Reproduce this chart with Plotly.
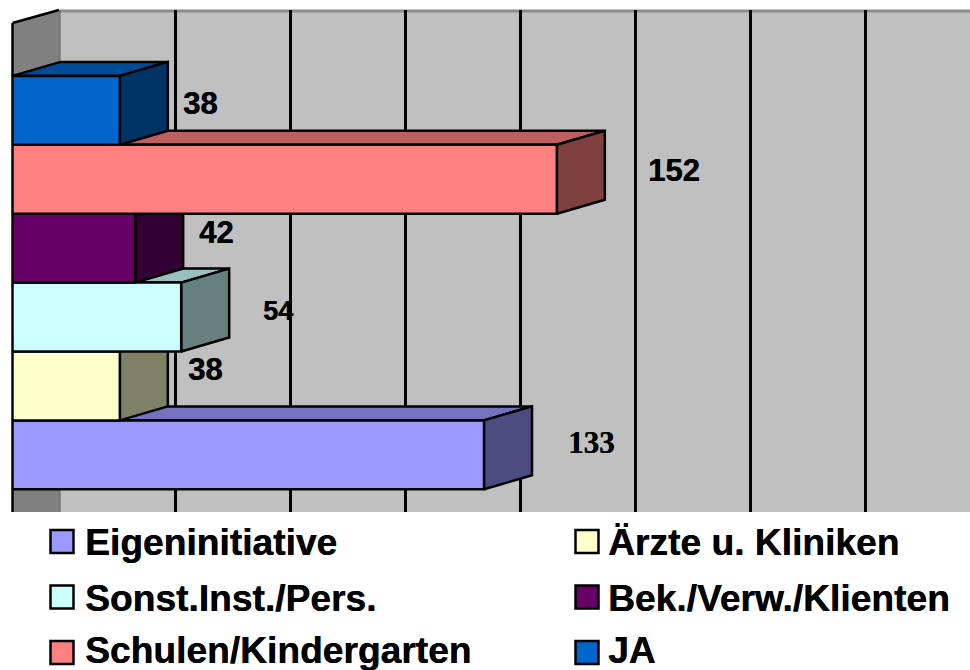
import plotly.graph_objects as go

categories = ["Eigeninitiative", "Ärzte u. Kliniken", "Sonst.Inst./Pers.",
              "Bek./Verw./Klienten", "Schulen/Kindergarten", "JA"]
values = [133, 38, 54, 42, 152, 38]
colors = ["#9999FF", "#FFFFCC", "#CCFFFF", "#660066", "#FF8080", "#0066CC"]
label_fonts = ["Liberation Serif", "Liberation Sans", "Liberation Sans",
               "Liberation Sans", "Liberation Sans", "Liberation Sans"]
label_sizes = [31, 31, 27, 31, 31, 31]
label_shift_x = [107.5, 85.5, 97, 81, 117.5, 80.5]
label_shift_y = [12, 16, 6, 16, 9, 7]
grid_values = [40, 70, 100, 130, 160, 190, 220, 250]

W, H = 970, 670
AXIS_MIN = 10
PX_PER_UNIT = 115 / 30
PX_LEFT, PX_TOP, PX_BOTTOM = 12.5, 10, 512
ROW_H = 68.9
ROW_BOTTOM = 489.3
DEPTH_PX_X, DEPTH_PX_Y = 48, 14
GRID_PX_X = 47.7
dx = DEPTH_PX_X / PX_PER_UNIT
dy = DEPTH_PX_Y / ROW_H

x_range = [AXIS_MIN, AXIS_MIN + (W - PX_LEFT) / PX_PER_UNIT]
y_range = [-0.5 - (PX_BOTTOM - ROW_BOTTOM) / ROW_H, -0.5 + (ROW_BOTTOM - PX_TOP) / ROW_H]


def shade(hex_color, f):
    r, g, b = (int(hex_color[i:i + 2], 16) for i in (1, 3, 5))
    return f"rgb({round(r * f)},{round(g * f)},{round(b * f)})"


def px(x):
    return x / W


def py(y):
    return 1 - y / H


fig = go.Figure()
line = dict(color="black", width=2.5)

# depth faces (bottom row first, so the rows above overlap them)
for i, (name, v, c) in enumerate(zip(categories, values, colors)):
    lo, hi = i - 0.5, i + 0.5
    fig.add_trace(go.Scatter(
        x=[AXIS_MIN, v, v + dx, AXIS_MIN + dx, AXIS_MIN],
        y=[hi, hi, hi + dy, hi + dy, hi],
        mode="lines", fill="toself", fillcolor=shade(c, 0.75), line=line,
        hoverinfo="skip", showlegend=False, xaxis="x", yaxis="y"))
    fig.add_trace(go.Scatter(
        x=[v, v + dx, v + dx, v, v],
        y=[lo, lo + dy, hi + dy, hi, lo],
        mode="lines", fill="toself", fillcolor=shade(c, 0.5), line=line,
        hoverinfo="skip", showlegend=False, xaxis="x", yaxis="y"))

# front faces, on an overlaying axis with the same scale
for i, (name, v, c) in enumerate(zip(categories, values, colors)):
    fig.add_trace(go.Bar(
        y=[i], x=[v], name=name, orientation="h", width=1,
        marker=dict(color=c, line=line), showlegend=False,
        xaxis="x2", yaxis="y"))

shapes = [
    # back wall
    dict(type="rect", xref="paper", yref="paper", layer="below",
         x0=px(60), x1=1, y0=py(PX_BOTTOM), y1=py(PX_TOP),
         fillcolor="#C0C0C0", line_width=0),
    # side wall
    dict(type="path", xref="paper", yref="paper", layer="below",
         path=f"M{px(PX_LEFT)},{py(23)} L{px(59)},{py(PX_TOP)} L{px(59)},{py(PX_BOTTOM)} L{px(PX_LEFT)},{py(PX_BOTTOM)} Z",
         fillcolor="#808080", line_width=0),
    # wall edges
    dict(type="line", xref="paper", yref="paper", layer="below",
         x0=px(60), x1=1, y0=py(PX_TOP + 1), y1=py(PX_TOP + 1),
         line=dict(color="#8C8C8C", width=3)),
    dict(type="line", xref="paper", yref="paper", layer="below",
         x0=px(59.5), x1=px(59.5), y0=py(PX_TOP), y1=py(PX_BOTTOM),
         line=dict(color="#777777", width=2.5)),
    dict(type="line", xref="paper", yref="paper", layer="above",
         x0=px(PX_LEFT), x1=px(PX_LEFT), y0=py(23), y1=py(PX_BOTTOM),
         line=dict(color="black", width=2.5)),
    dict(type="line", xref="paper", yref="paper", layer="below",
         x0=px(PX_LEFT), x1=px(59), y0=py(23), y1=py(PX_TOP),
         line=dict(color="black", width=2.5)),
]

BOLDER = "0.4px 0 0 black"
annotations = []
for i, v in enumerate(values):
    annotations.append(dict(
        x=v, y=i, xref="x", yref="y", text=f"<b>{v}</b>", showarrow=False,
        xshift=label_shift_x[i], yshift=label_shift_y[i],
        font=dict(family=label_fonts[i], size=label_sizes[i], color="black", shadow=BOLDER)))

# legend: two columns, three rows
for i, (name, c) in enumerate(zip(categories, colors)):
    col, row = i % 2, i // 2
    sx = [50.5, 575.5][col]
    cy = [541.5, 597, 652.5][row]
    shapes.append(dict(type="rect", xref="paper", yref="paper",
                       x0=px(sx), x1=px(sx + 23), y0=py(cy + 11.5), y1=py(cy - 11.5),
                       fillcolor=c, line=dict(color="black", width=2.5)))
    annotations.append(dict(
        x=px([83, 606][col]), y=py([542, 597.5, 649.5][row]), xref="paper", yref="paper",
        xanchor="left", yanchor="middle", showarrow=False, text=f"<b>{name}</b>",
        font=dict(family="Liberation Sans", size=37.2, color="black", shadow=BOLDER)))

fig.update_layout(
    width=W, height=H, autosize=False,
    margin=dict(l=0, r=0, t=0, b=0, pad=0),
    paper_bgcolor="white", plot_bgcolor="rgba(0,0,0,0)",
    barmode="overlay", showlegend=False,
    shapes=shapes, annotations=annotations,
    xaxis=dict(domain=[px(PX_LEFT), 1], range=x_range, showgrid=True,
               tickmode="array", tickvals=[g + GRID_PX_X / PX_PER_UNIT for g in grid_values],
               showticklabels=False, ticks="", gridcolor="black", gridwidth=2.5,
               zeroline=False, showline=False),
    xaxis2=dict(overlaying="x", range=x_range, showgrid=False, visible=False),
    yaxis=dict(domain=[py(PX_BOTTOM), py(PX_TOP)], range=y_range, showgrid=False,
               showticklabels=False, ticks="", zeroline=False, showline=False),
)

fig.write_html("out.html", config={"displayModeBar": False},
               post_script="document.body.style.margin='0';")
